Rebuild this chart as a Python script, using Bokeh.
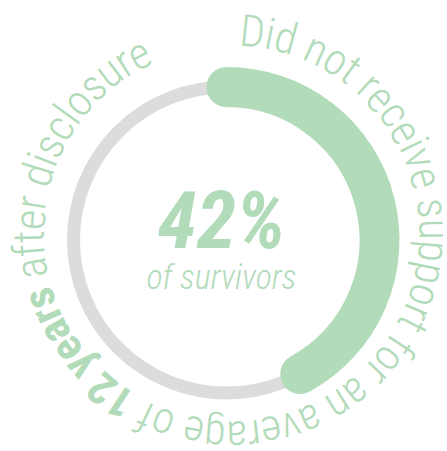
import math
from bokeh.plotting import figure
from bokeh.models import Range1d
from bokeh.embed import file_html
from bokeh.resources import INLINE
from bokeh.core.properties import value

# ---- data ----
percent = 42
headline = "42%"
subline = "of survivors"
ring_parts = ["Did not receive support for an average of ", "12 years", " after disclosure"]
ring_bold = [False, True, False]

GREEN = "#b2dbba"
GRAY = "#dcdcdc"
FONT_LIGHT = "Roboto Condensed Light, Roboto Condensed"
FONT = "Roboto Condensed"

# approximate relative advance widths (em)
W_REG = {' ': .248, 'a': .531, 'c': .510, 'd': .550, 'e': .517, 'f': .339, 'g': .547,
         'i': .237, 'l': .237, 'n': .538, 'o': .556, 'p': .547, 'r': .331, 's': .503,
         't': .320, 'u': .537, 'v': .472, 'y': .461, 'D': .640, '1': .561, '2': .561}
W_BOLD = {' ': .246, '1': .561, '2': .561, 'y': .486, 'e': .530, 'a': .543, 'r': .352, 's': .521}

BASE = 0.34  # baseline correction (em)

PW, PH = 447, 451
p = figure(width=PW, height=PH, x_range=Range1d(0, PW), y_range=Range1d(0, PH),
           output_backend="svg", toolbar_location=None, min_border=0,
           x_axis_type=None, y_axis_type=None, outline_line_color=None)
p.grid.visible = False
p.background_fill_color = "white"
p.border_fill_color = "white"

cx, cy = 226, PH - 239.5
ring_r = 153

p.circle(x=[cx], y=[cy], radius=ring_r, fill_color=None, line_color=GRAY, line_width=13)
p.arc(x=[cx], y=[cy], radius=ring_r, start_angle=math.pi / 2,
      end_angle=math.pi / 2 - 2 * math.pi * percent / 100, direction="clock",
      line_color=GREEN, line_width=40, line_cap="round")

# curved text: distribute glyphs by relative width over the arc from start to end
fs = 44
tcx, tcy = 231, PH - 233
tr = 188
t_start, t_end = math.radians(2.2), math.radians(335.7)
chars = []
for part, bold in zip(ring_parts, ring_bold):
    table = W_BOLD if bold else W_REG
    for ch in part:
        chars.append((ch, bold, table.get(ch, .53)))
total = sum(c[2] for c in chars)
scale = (t_end - t_start) / total
groups = {False: dict(x=[], y=[], t=[], a=[]), True: dict(x=[], y=[], t=[], a=[])}
acc = 0.0
rr = tr + BASE * fs
for ch, bold, w in chars:
    th = t_start + (acc + w / 2) * scale
    acc += w
    if ch == ' ':
        continue
    g = groups[bold]
    g['x'].append(tcx + rr * math.sin(th))
    g['y'].append(tcy + rr * math.cos(th))
    g['t'].append(ch)
    g['a'].append(-th)

for bold, g in groups.items():
    p.text(x=g['x'], y=g['y'], text=g['t'], angle=g['a'],
           text_font=value(FONT if bold else FONT_LIGHT),
           text_font_size=f"{fs}px", text_font_style="bold" if bold else "normal",
           text_align="center", text_baseline="alphabetic", text_color=GREEN)

hs, ss = 80, 34
p.text(x=[221], y=[PH - 248 + BASE * hs], text=[headline], text_font=value(FONT),
       text_font_size=f"{hs}px", text_font_style="bold italic", text_align="center",
       text_baseline="alphabetic", text_color=GREEN)
p.text(x=[221], y=[PH - 288 + BASE * ss], text=[subline], text_font=value(FONT_LIGHT),
       text_font_size=f"{ss}px", text_font_style="italic", text_align="center",
       text_baseline="alphabetic", text_color=GREEN)

open("out.html", "w").write(file_html(p, INLINE))
